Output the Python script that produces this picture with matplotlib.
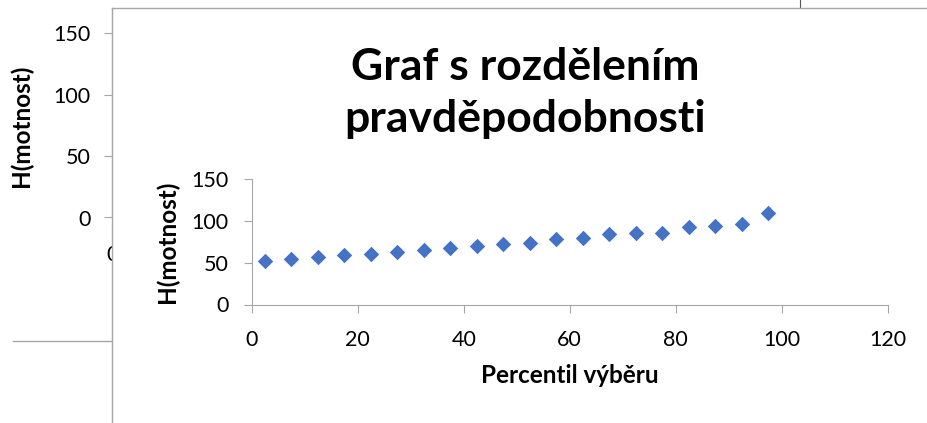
import matplotlib.pyplot as plt
from matplotlib.lines import Line2D

plt.rcParams['font.family'] = ['Lato', 'DejaVu Sans']

# data
percentil = [2.5, 7.5, 12.5, 17.5, 22.5, 27.5, 32.5, 37.5, 42.5, 47.5,
             52.5, 57.5, 62.5, 67.5, 72.5, 77.5, 82.5, 87.5, 92.5, 97.5]
hmotnost = [52, 55, 57, 59, 60, 63, 65, 68, 70, 73,
            74, 79, 80, 85, 86, 86, 93, 94, 96, 110]
y_ticks = [0, 50, 100, 150]
x_ticks = [0, 20, 40, 60, 80, 100, 120]

title_lines = ["Graf s rozdělením", "pravděpodobnosti"]
xlabel = "Percentil výběru"
ylabel = "H(motnost)"

W, H = 927, 423
gray = '#a6a6a6'
blue = '#4472c4'


def fx(px):
    return px / W


def fy(py):
    return 1 - py / H


fig = plt.figure(figsize=(W / 100, H / 100), dpi=100)

# stray lines of other objects behind
fig.add_artist(Line2D([fx(13), fx(112)], [fy(341), fy(341)], color=gray, lw=1, zorder=0))
fig.add_artist(Line2D([fx(800), fx(800)], [fy(0), fy(8)], color='#555555', lw=0.8, zorder=0))

# chart behind (only its left side shows)
back = fig.add_axes([fx(112.3), fy(217.5), fx(500), fy(33.3) - fy(217.5)])
back.set_zorder(0)
back.set_ylim(0, 150)
back.set_xlim(0, 120)
back.set_yticks(y_ticks)
back.set_xticks([0])
for s in ['top', 'right', 'bottom']:
    back.spines[s].set_visible(False)
back.spines['left'].set_color(gray)
back.tick_params(axis='y', direction='out', length=5.5, color=gray, labelsize=15.5, pad=10)
back.tick_params(axis='x', length=0, labelsize=15.5, pad=20)
back.set_ylabel(ylabel, fontsize=17.5, fontweight='bold', va='center')
back.yaxis.set_label_coords((21 - 112.3) / 500, 0.5)

# front chart area
panel = fig.add_axes([fx(112.3), -0.2, 1.0, fy(8) + 0.2])
panel.set_zorder(1)
panel.set_xticks([])
panel.set_yticks([])
for s in ['right', 'bottom']:
    panel.spines[s].set_visible(False)
for s in ['left', 'top']:
    panel.spines[s].set_color(gray)
    panel.spines[s].set_linewidth(1)

fig.text(fx(525), fy(80), title_lines[0], ha='center', va='baseline',
         fontsize=32, fontweight='bold', zorder=5)
fig.text(fx(525), fy(132), title_lines[1], ha='center', va='baseline',
         fontsize=32, fontweight='bold', zorder=5)

ax = fig.add_axes([fx(251.7), fy(304.5), fx(887.7) - fx(251.7), fy(179.3) - fy(304.5)])
ax.set_zorder(2)
ax.patch.set_alpha(0)
ax.scatter(percentil, hmotnost, marker='D', s=62, color=blue, linewidths=0, zorder=3)
ax.set_xlim(0, 120)
ax.set_ylim(0, 150)
ax.set_xticks(x_ticks)
ax.set_yticks(y_ticks)
for s in ['top', 'right']:
    ax.spines[s].set_visible(False)
for s in ['left', 'bottom']:
    ax.spines[s].set_color(gray)
ax.tick_params(direction='out', length=5.5, color=gray, labelsize=15.5)
ax.tick_params(axis='x', pad=13)
ax.tick_params(axis='y', pad=11)
ax.set_xlabel(xlabel, fontsize=17.5, fontweight='bold', labelpad=10)
ax.set_ylabel(ylabel, fontsize=17.5, fontweight='bold', labelpad=9)

fig.savefig('out.png', dpi=100)
